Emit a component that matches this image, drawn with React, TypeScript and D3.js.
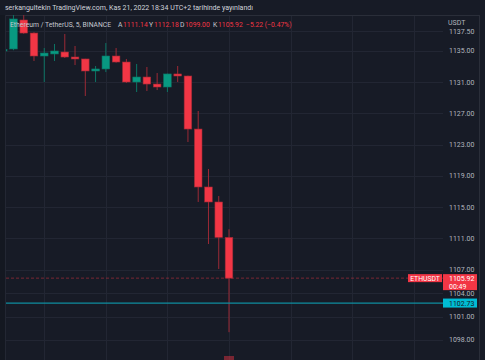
import React from 'react';
import * as d3 from 'd3';

// ---- Data (5-minute candles, ETHUSDT, Binance) ----
const opens = [1135.0, 1135.26, 1138.97, 1137.3, 1134.36, 1134.62, 1134.87, 1134.23, 1133.98, 1132.44, 1132.7, 1134.36, 1133.59, 1131.03, 1131.67, 1130.77, 1130.39, 1132.06, 1131.8, 1125.01, 1117.59, 1115.67, 1111.14];
const closes = [1135.2, 1139.1, 1137.3, 1134.36, 1134.74, 1135.0, 1134.23, 1133.98, 1132.44, 1132.7, 1134.36, 1133.59, 1131.03, 1131.67, 1130.77, 1130.39, 1132.06, 1131.8, 1125.01, 1117.59, 1115.67, 1111.14, 1105.92];
const highs = [1135.4, 1139.6, 1139.6, 1137.4, 1135.38, 1135.9, 1137.18, 1135.64, 1134.0, 1133.08, 1136.02, 1135.38, 1133.98, 1133.34, 1132.95, 1132.18, 1132.1, 1133.08, 1131.85, 1127.32, 1119.89, 1116.43, 1112.18];
const lows = [1134.9, 1135.1, 1137.2, 1133.72, 1131.03, 1133.72, 1134.1, 1133.2, 1129.24, 1131.03, 1132.3, 1133.5, 1130.9, 1129.75, 1129.88, 1130.0, 1129.75, 1131.03, 1123.35, 1115.67, 1110.29, 1107.09, 1099.0];
const priceTicks = [1137.5, 1135, 1131, 1127, 1123, 1119, 1115, 1111, 1107, 1104, 1101, 1098];
const lastPrice = 1105.92;
const linePrice = 1102.73;
const countdown = '00:49';
const lastVolumeFrac = 0.08; // visible tip of last volume bar (fraction of pane)

const titleText = 'serkangultekin TradingView.com, Kas 21, 2022 18:34 UTC+2 tarihinde yayınlandı';
const symbolText = 'Ethereum / TetherUS, 5, BINANCE';
const ohlcLabels = ['A', 'Y', 'D', 'K'];
const ohlcValues = ['1111.14', '1112.18', '1099.00', '1105.92'];
const changeText = '−5.22 (−0.47%)';

const W = 485;
const H = 360;
const paneLeft = 6;
const paneRight = 443;
const paneTop = 15;
const axisRight = 479;

const BG = '#171b26';
const GRID = '#222633';
const UP = '#089981';
const DOWN = '#f23645';
const UP_WICK = '#0c7565';
const DOWN_WICK = '#9c2a36';
const TEXT = '#b2b5be';
const FONT = 'Roboto, "Noto Sans", sans-serif';

export default function App() {
  const x = d3.scaleLinear().domain([0, 22]).range([3.2, 229]);
  const y = d3.scaleLinear().domain([1098, 1135]).range([340, 51]);
  const bw = 7.6;
  const vGrid = d3.range(-2, 46, 6);
  const ohlcX = [118, 149, 180, 213];
  const n = opens.length;

  return (
    <div style={{ position: 'fixed', left: 0, top: 0, width: W, height: H }}>
      <svg width={W} height={H} style={{ display: 'block', fontFamily: FONT }}>
        <defs>
          <clipPath id="pane">
            <rect x={paneLeft} y={paneTop} width={paneRight - paneLeft} height={H - paneTop} />
          </clipPath>
        </defs>
        <rect x={0} y={0} width={W} height={H} fill={BG} />
        <rect x={0} y={paneTop} width={paneLeft} height={H - paneTop} fill="#141821" />
        {/* grid */}
        <g clipPath="url(#pane)">
          {priceTicks.map((t) => (
            <line key={'h' + t} x1={paneLeft} x2={paneRight} y1={Math.round(y(t)) + 0.5} y2={Math.round(y(t)) + 0.5} stroke={GRID} strokeWidth={1} />
          ))}
          {vGrid.map((i) => (
            <line key={'v' + i} x1={Math.round(x(i)) + 0.5} x2={Math.round(x(i)) + 0.5} y1={paneTop} y2={H} stroke={GRID} strokeWidth={1} />
          ))}
        </g>
        {/* borders */}
        <line x1={paneLeft} x2={axisRight} y1={paneTop + 0.5} y2={paneTop + 0.5} stroke="#2a2e39" />
        <line x1={axisRight + 0.5} x2={axisRight + 0.5} y1={paneTop} y2={H} stroke="#2a2e39" />
        <line x1={paneLeft - 0.5} x2={paneLeft - 0.5} y1={paneTop} y2={H} stroke="#232733" />

        <g clipPath="url(#pane)">
          {/* volume tip */}
          <rect x={x(n - 1) - 5} y={H - lastVolumeFrac * 50} width={10} height={lastVolumeFrac * 50} fill={DOWN} opacity={0.45} />
          {/* last price dashed line */}
          <line x1={paneLeft} x2={paneRight} y1={y(lastPrice)} y2={y(lastPrice)} stroke={DOWN} strokeOpacity={0.45} strokeDasharray="3,2" strokeWidth={1} />
          {/* candles */}
          {opens.map((o, i) => {
            const c = closes[i];
            const up = c >= o;
            const cx = x(i);
            const top = y(Math.max(o, c));
            const bot = y(Math.min(o, c));
            return (
              <g key={i}>
                <line x1={cx} x2={cx} y1={y(highs[i])} y2={y(lows[i])} stroke={up ? UP_WICK : DOWN_WICK} strokeWidth={1} />
                <rect x={cx - bw / 2} y={top} width={bw} height={Math.max(1.5, bot - top)} fill={up ? UP : DOWN} stroke={up ? UP_WICK : DOWN_WICK} strokeWidth={0.6} />
              </g>
            );
          })}
          {/* horizontal line */}
          <line x1={paneLeft} x2={paneRight} y1={y(linePrice)} y2={y(linePrice)} stroke="#0f8e9f" strokeWidth={1.2} />
        </g>

        {/* title */}
        <text x={5} y={10} fontSize={7.0} fill="#d1d4dc" fontWeight={400}>{titleText}</text>
        {/* legend */}
        <text x={10} y={27} fontSize={6.8} fill="#c5c8d0">{symbolText}</text>
        {ohlcLabels.map((l, i) => (
          <g key={l}>
            <text x={ohlcX[i]} y={27} fontSize={6.8} fill="#c5c8d0">{l}</text>
            <text x={ohlcX[i] + 5} y={27} fontSize={6.8} fill={DOWN}>{ohlcValues[i]}</text>
          </g>
        ))}
        <text x={246} y={27} fontSize={6.8} fill={DOWN}>{changeText}</text>

        {/* price axis */}
        <text x={448} y={25} fontSize={7} fill={TEXT}>USDT</text>
        {priceTicks.map((t) => (
          <text key={'t' + t} x={449} y={y(t)} dy="0.35em" fontSize={7} fill={TEXT}>{t.toFixed(2)}</text>
        ))}

        {/* ETHUSDT label */}
        <rect x={408} y={y(lastPrice) - 4} width={34} height={8} fill={DOWN} />
        <text x={425} y={y(lastPrice)} dy="0.35em" fontSize={6.8} fill="#ffffff" textAnchor="middle">ETHUSDT</text>
        <rect x={443} y={y(lastPrice) - 4} width={34} height={16} fill={DOWN} />
        <text x={449} y={y(lastPrice)} dy="0.35em" fontSize={7} fill="#ffffff">{lastPrice.toFixed(2)}</text>
        <text x={449} y={y(lastPrice) + 8} dy="0.35em" fontSize={7} fill="#ffffff">{countdown}</text>

        {/* line price label */}
        <rect x={443} y={y(linePrice) - 4.5} width={34} height={9} fill="#00bcd4" />
        <text x={449} y={y(linePrice)} dy="0.35em" fontSize={7} fill="#131722">{linePrice.toFixed(2)}</text>
      </svg>
    </div>
  );
}
